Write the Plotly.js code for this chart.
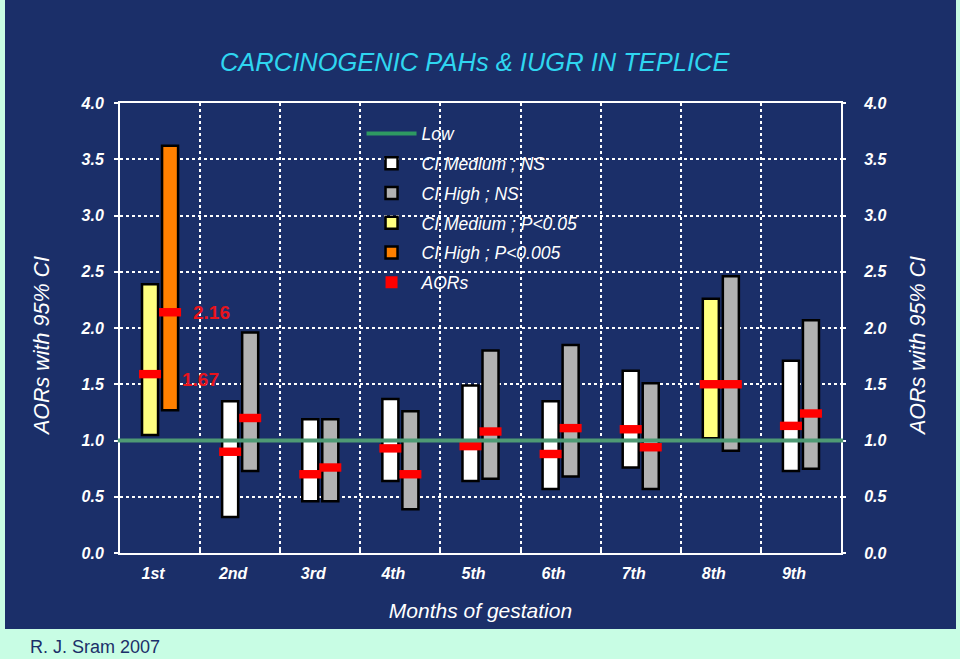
<!DOCTYPE html>
<html>
<head>
<meta charset="utf-8">
<script src="https://cdn.plot.ly/plotly-3.0.1.min.js"></script>
<style>html,body{margin:0;padding:0;background:#c8fde4;}#chart{width:960px;height:659px;}</style>
</head>
<body>
<div id="chart"></div>
<script>
// ---- data ----
const months = ['1st', '2nd', '3rd', '4th', '5th', '6th', '7th', '8th', '9th'];
// Medium exposure: 95% CI bounds and AOR
const medLower = [1.05, 0.32, 0.46, 0.64, 0.64, 0.57, 0.76, 1.02, 0.73];
const medUpper = [2.39, 1.35, 1.19, 1.37, 1.49, 1.35, 1.62, 2.26, 1.71];
const medAOR   = [1.59, 0.90, 0.70, 0.93, 0.95, 0.88, 1.10, 1.50, 1.13];
const medSig   = [true, false, false, false, false, false, false, true, false];
// High exposure: 95% CI bounds and AOR
const highLower = [1.27, 0.73, 0.46, 0.39, 0.66, 0.68, 0.57, 0.91, 0.75];
const highUpper = [3.62, 1.96, 1.19, 1.26, 1.80, 1.85, 1.51, 2.46, 2.07];
const highAOR   = [2.14, 1.20, 0.76, 0.70, 1.08, 1.11, 0.94, 1.50, 1.24];
const highSig   = [true, false, false, false, false, false, false, false, false];
const lowRef = 1.0;
const labelHigh1 = '2.16';
const labelMed1 = '1.67';
const yTicks = [0, 0.5, 1, 1.5, 2, 2.5, 3, 3.5, 4];

// ---- styling ----
const NAVY = '#1b2f69';
const FONT = 'Arial, "Liberation Sans", sans-serif';
const BAR_W = 0.2, AOR_W = 0.275, AOR_H = 0.075;
const MED_OFF = -0.125, HIGH_OFF = 0.125;

function ciTrace(name, lower, upper, sel, color, off, grp) {
  return {
    type: 'bar', name: name, x: months,
    y: upper.map((u, i) => sel[i] ? u - lower[i] : null),
    base: lower.map((l, i) => sel[i] ? l : null),
    width: BAR_W, offset: off - BAR_W / 2,
    marker: {color: color, line: {color: '#000', width: 2.5}},
    legendgroup: grp, hoverinfo: 'skip'
  };
}
function aorTrace(vals, off, show) {
  return {
    type: 'bar', name: 'AORs', x: months,
    y: vals.map(() => AOR_H), base: vals.map(v => v - AOR_H / 2),
    width: AOR_W, offset: off - AOR_W / 2,
    marker: {color: '#ff0000', line: {width: 0}},
    showlegend: show, legendgroup: 'g6', hoverinfo: 'skip'
  };
}

const traces = [
  {type: 'scatter', mode: 'lines', name: 'Low', x: [null], y: [null],
   line: {color: '#2e9a62', width: 4}, legendgroup: 'g1'},
  ciTrace('CI Medium ; NS', medLower, medUpper, medSig.map(s => !s), '#ffffff', MED_OFF, 'g2'),
  ciTrace('CI High ; NS', highLower, highUpper, highSig.map(s => !s), '#b2b2b2', HIGH_OFF, 'g3'),
  ciTrace('CI Medium ; P&lt;0.05', medLower, medUpper, medSig, '#ffff80', MED_OFF, 'g4'),
  ciTrace('CI High ; P&lt;0.005', highLower, highUpper, highSig, '#ff8000', HIGH_OFF, 'g5'),
  aorTrace(medAOR, MED_OFF, true),
  aorTrace(highAOR, HIGH_OFF, false),
  {type: 'scatter', x: [months[0]], y: [null], yaxis: 'y2', showlegend: false, hoverinfo: 'skip'}
];

const tickFont = {family: FONT, size: 16, color: '#ffffff', weight: 'bold', style: 'italic'};
const sideTitleFont = {family: FONT, size: 21.5, color: '#ffffff', style: 'italic'};

const layout = {
  width: 960, height: 659,
  margin: {l: 120, r: 119, t: 103, b: 106},
  paper_bgcolor: '#c8fde4',
  plot_bgcolor: NAVY,
  barmode: 'overlay',
  showlegend: true,
  title: {text: 'CARCINOGENIC PAHs &amp; IUGR IN TEPLICE', x: 0.492, xref: 'paper',
          y: 1 - 62 / 659, yref: 'container', yanchor: 'middle',
          font: {family: FONT, size: 25.5, color: '#2fd6f0', style: 'italic'}},
  xaxis: {
    type: 'category', categoryarray: months, tickson: 'boundaries',
    showgrid: true, gridcolor: '#ffffff', griddash: 'dot', gridwidth: 2,
    showline: true, linecolor: '#ffffff', linewidth: 2, mirror: true,
    ticks: 'inside', ticklen: 5, tickcolor: '#ffffff', tickwidth: 2,
    tickfont: tickFont, ticklabelshift: -7, ticklabelstandoff: 5,
    title: {text: 'Months of gestation', standoff: 22,
            font: {family: FONT, size: 21, color: '#ffffff', style: 'italic'}},
    zeroline: false, fixedrange: true
  },
  yaxis: {
    range: [0, 4], tickvals: yTicks, ticktext: yTicks.map(v => v.toFixed(1)),
    showgrid: true, gridcolor: '#ffffff', griddash: 'dot', gridwidth: 2,
    showline: true, linecolor: '#ffffff', linewidth: 2, mirror: true,
    ticks: 'outside', ticklen: 4, tickcolor: '#ffffff', tickwidth: 2,
    tickfont: tickFont, ticklabelstandoff: 7, zeroline: false
  },
  yaxis2: {
    overlaying: 'y', side: 'right', range: [0, 4],
    tickvals: yTicks, ticktext: yTicks.map(v => v.toFixed(1)),
    showgrid: false, zeroline: false, showline: false,
    ticks: 'outside', ticklen: 4, tickcolor: '#ffffff', tickwidth: 2,
    tickfont: tickFont, ticklabelstandoff: 15
  },
  legend: {
    x: 0.335, xanchor: 'left', y: 0.972, yanchor: 'top',
    bgcolor: 'rgba(0,0,0,0)', borderwidth: 0,
    font: {family: FONT, size: 17.5, color: '#ffffff', style: 'italic'},
    traceorder: 'grouped', tracegroupgap: 4, itemwidth: 50
  },
  shapes: [
    {type: 'rect', xref: 'paper', yref: 'paper', layer: 'below',
     x0: (5 - 120) / 721, x1: (956 - 120) / 721, y0: (553 - 629) / 450, y1: 553 / 450,
     fillcolor: NAVY, line: {width: 0}},
    {type: 'line', xref: 'paper', yref: 'y', x0: -0.003, x1: 1.003, y0: lowRef, y1: lowRef,
     layer: 'above', line: {color: '#4e9a74', width: 4}}
  ],
  annotations: [
    {text: 'AORs with 95% CI', xref: 'paper', yref: 'paper', textangle: -90,
     x: (42 - 120) / 721, y: (553 - 346) / 450, xanchor: 'center', yanchor: 'middle',
     showarrow: false, font: sideTitleFont},
    {text: 'AORs with 95% CI', xref: 'paper', yref: 'paper', textangle: -90,
     x: (918 - 120) / 721, y: (553 - 346) / 450, xanchor: 'center', yanchor: 'middle',
     showarrow: false, font: sideTitleFont},
    {text: labelHigh1, x: months[0], y: highAOR[0], xref: 'x', yref: 'y',
     xanchor: 'left', yanchor: 'middle', xshift: 31, showarrow: false,
     font: {family: FONT, size: 19, color: '#e8141c', weight: 'bold'}},
    {text: labelMed1, x: months[0], y: medAOR[0], xref: 'x', yref: 'y',
     xanchor: 'left', yanchor: 'middle', xshift: 20, yshift: -5, showarrow: false,
     font: {family: FONT, size: 19, color: '#e8141c', weight: 'bold'}},
    {text: 'R. J. Sram 2007', xref: 'paper', yref: 'paper',
     x: (29 - 120) / 721, y: (553 - 658) / 450, xanchor: 'left', yanchor: 'bottom',
     borderpad: 0, showarrow: false, font: {family: FONT, size: 18, color: NAVY}}
  ]
};

Plotly.newPlot('chart', traces, layout, {staticPlot: true});
</script>
</body>
</html>
